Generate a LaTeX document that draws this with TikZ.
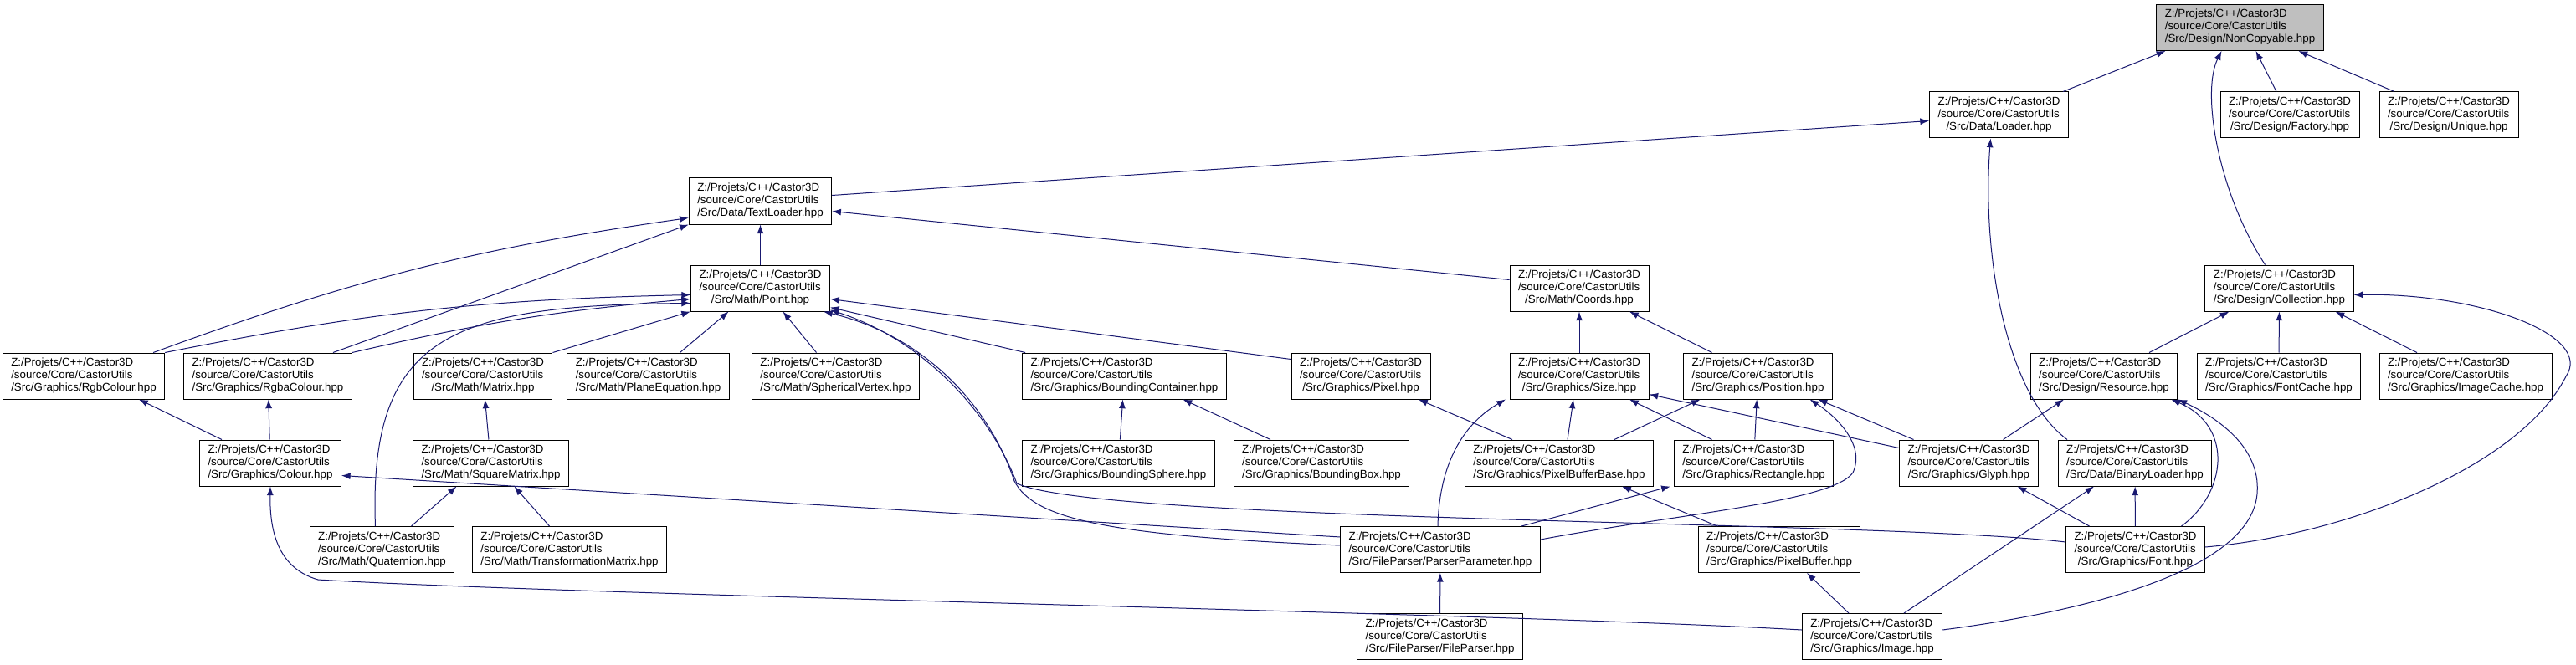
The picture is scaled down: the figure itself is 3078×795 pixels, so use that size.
\documentclass[tikz,border=0pt]{standalone}
\usepackage{fontspec}
\setmainfont{Liberation Sans}
\usepackage{xcolor}
\usepackage{tikz}
\usetikzlibrary{arrows.meta,calc}

\definecolor{edgeblue}{HTML}{191970}
\newcommand{\hpp}[1]{\begin{tabular}{@{}c@{}}\multicolumn{1}{@{}l@{}}{Z:/Projets/C++/Castor3D}\\\multicolumn{1}{@{}l@{}}{/source/Core/CastorUtils}\\#1\end{tabular}}

\begin{document}
\begin{tikzpicture}[x=0.75pt, y=-0.75pt, >={Latex[length=8pt,width=6pt]},
  hppbox/.style={draw=black, fill=white, line width=0.75pt, inner xsep=7.5pt, inner ysep=2pt, minimum height=41.25pt, font=\fontsize{10}{11.25}\selectfont},
  incl/.style={->, draw=edgeblue, line width=0.75pt}]
\path[use as bounding box, fill=white] (0,0) rectangle (3078,795);

\node[hppbox,fill=gray!50] (noncopyable) at (2676.5,33) {\hpp{/Src/Design/NonCopyable.hpp}};
\node[hppbox] (loader) at (2388.5,137.5) {\hpp{/Src/Data/Loader.hpp}};
\node[hppbox] (factory) at (2736,137.5) {\hpp{/Src/Design/Factory.hpp}};
\node[hppbox] (unique) at (2926,137.5) {\hpp{/Src/Design/Unique.hpp}};
\node[hppbox] (textloader) at (908.5,240.5) {\hpp{/Src/Data/TextLoader.hpp}};
\node[hppbox] (point) at (908.5,344.5) {\hpp{/Src/Math/Point.hpp}};
\node[hppbox] (coords) at (1887,344.5) {\hpp{/Src/Math/Coords.hpp}};
\node[hppbox] (collection) at (2723.5,344.5) {\hpp{/Src/Design/Collection.hpp}};
\node[hppbox] (rgbcolour) at (100,449.5) {\hpp{/Src/Graphics/RgbColour.hpp}};
\node[hppbox] (rgbacolour) at (320,449.5) {\hpp{/Src/Graphics/RgbaColour.hpp}};
\node[hppbox] (matrix) at (577,449.5) {\hpp{/Src/Math/Matrix.hpp}};
\node[hppbox] (planeeq) at (774.5,449.5) {\hpp{/Src/Math/PlaneEquation.hpp}};
\node[hppbox] (sphvertex) at (998.5,449.5) {\hpp{/Src/Math/SphericalVertex.hpp}};
\node[hppbox] (boundcont) at (1343.5,449.5) {\hpp{/Src/Graphics/BoundingContainer.hpp}};
\node[hppbox] (pixel) at (1626,449.5) {\hpp{/Src/Graphics/Pixel.hpp}};
\node[hppbox] (size) at (1887,449.5) {\hpp{/Src/Graphics/Size.hpp}};
\node[hppbox] (position) at (2100.5,449.5) {\hpp{/Src/Graphics/Position.hpp}};
\node[hppbox] (resource) at (2514,449.5) {\hpp{/Src/Design/Resource.hpp}};
\node[hppbox] (fontcache) at (2723,449.5) {\hpp{/Src/Graphics/FontCache.hpp}};
\node[hppbox] (imagecache) at (2946,449.5) {\hpp{/Src/Graphics/ImageCache.hpp}};
\node[hppbox] (colour) at (323,553.5) {\hpp{/Src/Graphics/Colour.hpp}};
\node[hppbox] (squarematrix) at (586.5,553.5) {\hpp{/Src/Math/SquareMatrix.hpp}};
\node[hppbox] (boundsphere) at (1336.5,553.5) {\hpp{/Src/Graphics/BoundingSphere.hpp}};
\node[hppbox] (boundbox) at (1579,553.5) {\hpp{/Src/Graphics/BoundingBox.hpp}};
\node[hppbox] (pixbufbase) at (1863,553.5) {\hpp{/Src/Graphics/PixelBufferBase.hpp}};
\node[hppbox] (rectangle) at (2095.5,553.5) {\hpp{/Src/Graphics/Rectangle.hpp}};
\node[hppbox] (glyph) at (2352.5,553.5) {\hpp{/Src/Graphics/Glyph.hpp}};
\node[hppbox] (binaryloader) at (2551,553.5) {\hpp{/Src/Data/BinaryLoader.hpp}};
\node[hppbox] (quaternion) at (456.5,657) {\hpp{/Src/Math/Quaternion.hpp}};
\node[hppbox] (transfmatrix) at (680.5,657) {\hpp{/Src/Math/TransformationMatrix.hpp}};
\node[hppbox] (parserparam) at (1721,657) {\hpp{/Src/FileParser/ParserParameter.hpp}};
\node[hppbox] (pixelbuffer) at (2126,657) {\hpp{/Src/Graphics/PixelBuffer.hpp}};
\node[hppbox] (font) at (2551.5,657) {\hpp{/Src/Graphics/Font.hpp}};
\node[hppbox] (fileparser) at (1720.5,761) {\hpp{/Src/FileParser/FileParser.hpp}};
\node[hppbox] (image) at (2237,761) {\hpp{/Src/Graphics/Image.hpp}};

\draw[incl] ([shift={(-7,0)}]loader.north east) -- ([shift={(11,0)}]noncopyable.south west);
\draw[incl] ([shift={(-17,0)}]collection.north) .. controls (2650,230) and (2630,110) .. ([shift={(-22,0)}]noncopyable.south);
\draw[incl] ([shift={(-16,0)}]factory.north) -- ([shift={(19,0)}]noncopyable.south);
\draw[incl] ([shift={(-65,0)}]unique.north) -- ([shift={(70,0)}]noncopyable.south);
\draw[incl] ([shift={(0,-7)}]textloader.east) -- ([shift={(0,7)}]loader.west);
\draw[incl] ([shift={(-81,0)}]binaryloader.north) .. controls (2395,470) and (2368,300) .. ([shift={(-10,0)}]loader.south);
\draw[incl] (point) -- (textloader);
\draw[incl] ([shift={(0,-10)}]coords.west) -- ([shift={(0,12)}]textloader.east);
\draw[incl] ([shift={(-14,0)}]rgbcolour.north east) to[bend left=6] ([shift={(0,20)}]textloader.west);
\draw[incl] ([shift={(-23,0)}]rgbacolour.north east) -- (textloader.south west);
\draw[incl] (rgbcolour.north east) to[bend left=5] ([shift={(0,8)}]point.west);
\draw[incl] (rgbacolour.north east) to[bend left=4] ([shift={(0,13)}]point.west);
\draw[incl] ([shift={(-8,0)}]quaternion.north) .. controls (440,400) and (540,365) .. ([shift={(0,18)}]point.west);
\draw[incl] (matrix.north east) -- (point.south west);
\draw[incl] ([shift={(38,0)}]planeeq.north) -- ([shift={(-38,0)}]point.south);
\draw[incl] ([shift={(-23,0)}]sphvertex.north) -- ([shift={(27,0)}]point.south);
\draw[incl] ([shift={(4,0)}]boundcont.north west) -- ([shift={(0,-5)}]point.south east);
\draw[incl] ([shift={(0,8)}]pixel.north west) -- ([shift={(0,13)}]point.east);
\draw[incl] ([shift={(0,-5)}]parserparam.west) .. controls (1320,640) and (1235,620) .. (1212,575) .. controls (1180,480) and (1100,400) .. ([shift={(-8,0)}]point.south east);
\draw[incl] ([shift={(0,-9)}]font.west) .. controls (2250,622) and (1320,625) .. (1215,578) .. controls (1182,490) and (1100,405) .. ([shift={(0,-2)}]point.south east);
\draw[incl] (boundsphere) -- (boundcont);
\draw[incl] ([shift={(-61,0)}]boundbox.north) -- ([shift={(70,0)}]boundcont.south);
\draw[incl] (squarematrix) -- (matrix);
\draw[incl] ([shift={(-58,0)}]colour.north) -- ([shift={(66,0)}]rgbcolour.south);
\draw[incl] (colour) -- (rgbacolour);
\draw[incl] ([shift={(35,0)}]quaternion.north) -- ([shift={(-41,0)}]squarematrix.south);
\draw[incl] ([shift={(-24,0)}]transfmatrix.north) -- ([shift={(28,0)}]squarematrix.south);
\draw[incl] ([shift={(0,-15)}]parserparam.west) -- ([shift={(0,15)}]colour.east);
\draw[incl] ([shift={(0,-8)}]image.west) .. controls (1800,733) and (700,712) .. (380,693) .. controls (335,680) and (322,640) .. (colour.south);
\draw[incl] ([shift={(-3,0)}]parserparam.north) .. controls (1720,540) and (1760,500) .. ([shift={(-88,0)}]size.south);
\draw[incl] ([shift={(97,0)}]parserparam.north) -- ([shift={(-4,0)}]rectangle.south west);
\draw[incl] ([shift={(0,-12)}]parserparam.east) .. controls (2000,615) and (2190,600) .. (2214,565) .. controls (2230,530) and (2190,495) .. ([shift={(62,0)}]position.south);
\draw[incl] (fileparser) -- (parserparam);
\draw[incl] ([shift={(-56,0)}]pixbufbase.north) -- ([shift={(69,0)}]pixel.south);
\draw[incl] ([shift={(10,0)}]pixbufbase.north) -- ([shift={(-7,0)}]size.south);
\draw[incl] ([shift={(66,0)}]pixbufbase.north) -- ([shift={(-69,0)}]position.south);
\draw[incl] ([shift={(-50,0)}]rectangle.north) -- ([shift={(60,0)}]size.south);
\draw[incl] (rectangle) -- (position);
\draw[incl] ([shift={(0,-18)}]glyph.west) -- ([shift={(0,22)}]size.east);
\draw[incl] ([shift={(-66,0)}]glyph.north) -- ([shift={(72,0)}]position.south);
\draw[incl] ([shift={(41,0)}]glyph.north) -- ([shift={(-48,0)}]resource.south);
\draw[incl] ([shift={(-55,0)}]font.north) -- ([shift={(58,0)}]glyph.south);
\draw[incl] (font) -- (binaryloader);
\draw[incl] ([shift={(38,0)}]image.north) -- ([shift={(-49,0)}]binaryloader.south);
\draw[incl] ([shift={(-28,0)}]image.north) -- ([shift={(33,0)}]pixelbuffer.south);
\draw[incl] ([shift={(-74,0)}]pixelbuffer.north) -- ([shift={(75,0)}]pixbufbase.south);
\draw[incl] ([shift={(55,0)}]font.north) .. controls (2660,590) and (2670,510) .. ([shift={(-8,0)}]resource.south east);
\draw[incl] ([shift={(0,-8)}]image.east) .. controls (2500,730) and (2690,680) .. (2697,590) .. controls (2702,530) and (2640,495) .. (resource.south east);
\draw[incl] ([shift={(54,0)}]resource.north) -- ([shift={(-60,0)}]collection.south);
\draw[incl] (fontcache) -- (collection);
\draw[incl] ([shift={(-58,0)}]imagecache.north) -- ([shift={(67,0)}]collection.south);
\draw[incl] ([shift={(0,-3)}]font.east) .. controls (2800,640) and (3010,560) .. (3066,450) .. controls (3100,400) and (2960,350) .. ([shift={(0,8)}]collection.east);
\draw[incl] (size) -- (coords);
\draw[incl] ([shift={(-55,0)}]position.north) -- ([shift={(60,0)}]coords.south);
\end{tikzpicture}
\end{document}
